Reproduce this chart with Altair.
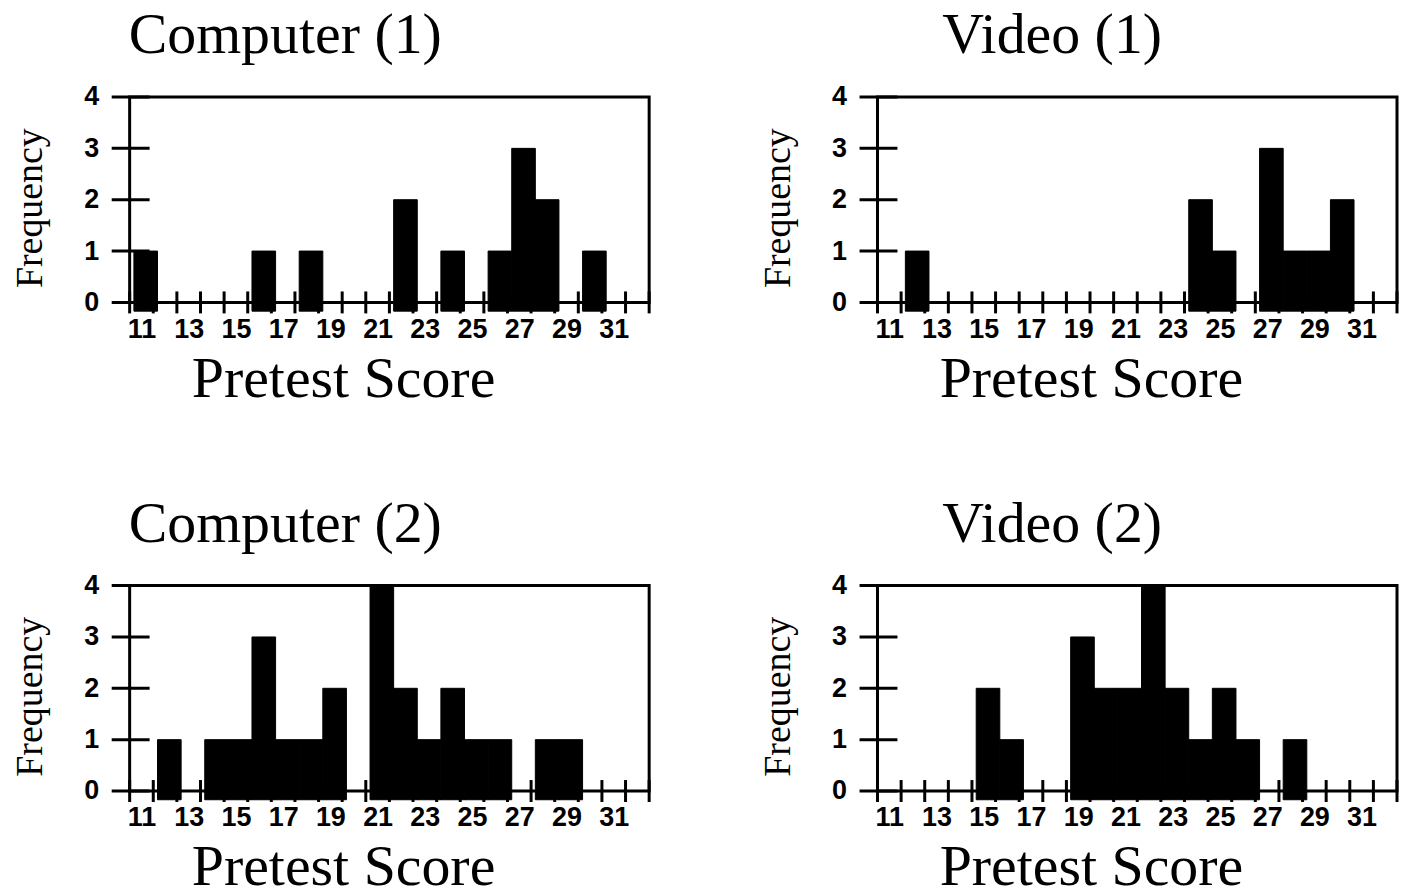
import altair as alt
import pandas as pd

# ---- data ----
comp1_scores = [11, 16, 18, 22, 24, 26, 27, 28, 30]
comp1_counts = [1, 1, 1, 2, 1, 1, 3, 2, 1]

video1_scores = [12, 24, 25, 27, 28, 29, 30]
video1_counts = [1, 2, 1, 3, 1, 1, 2]

comp2_scores = [12, 14, 15, 16, 17, 18, 19, 21, 22, 23, 24, 25, 26, 28, 29]
comp2_counts = [1, 1, 1, 3, 1, 1, 2, 4, 2, 1, 2, 1, 1, 1, 1]

video2_scores = [15, 16, 19, 20, 21, 22, 23, 24, 25, 26, 28]
video2_counts = [2, 1, 3, 2, 2, 4, 2, 1, 2, 1, 1]

x_labels = [11, 13, 15, 17, 19, 21, 23, 25, 27, 29, 31]
bin_edges = [e + 0.5 for e in range(10, 33)]   # 10.5 ... 32.5
y_labels = [0, 1, 2, 3, 4]

# ---- layout constants ----
W, H = 521, 206
SERIF = "Liberation Serif"
SANS = "Liberation Sans"

xs = alt.Scale(domain=[10.5, 32.5], nice=False, zero=False)
ys = alt.Scale(domain=[0, 4], nice=False, zero=False)

x_axis = alt.Axis(values=x_labels, title="Pretest Score", ticks=False, domain=False, grid=False,
                  labelFont=SANS, labelFontWeight="bold", labelFontSize=27, labelColor="black",
                  labelPadding=14, labelFlush=False,
                  titleFont=SERIF, titleFontSize=58, titleFontWeight="normal", titleColor="black",
                  titleX=214, titleY=48, titleAlign="center", titleBaseline="top")
y_axis = alt.Axis(values=y_labels, title="Frequency", ticks=False, domain=False, grid=False,
                  labelFont=SANS, labelFontWeight="bold", labelFontSize=27, labelColor="black",
                  labelPadding=31, labelFlush=False,
                  titleFont=SERIF, titleFontSize=38, titleFontWeight="normal", titleColor="black",
                  titleX=-99, titleY=111, titleAlign="center", titleBaseline="middle", titleAngle=270)


def panel(title, dx, scores, counts):
    df = pd.DataFrame({"score": scores, "count": counts})
    df["x0"] = df["score"] - 0.32
    df["x1"] = df["score"] + 0.68
    df["y0"] = -0.17
    bars = alt.Chart(df).mark_rect(color="black", stroke="black", strokeWidth=1).encode(
        x=alt.X("x0:Q", scale=xs, axis=x_axis),
        x2="x1:Q",
        y=alt.Y("y0:Q", scale=ys, axis=y_axis),
        y2="count:Q",
    )
    xt = alt.Chart(pd.DataFrame({"e": bin_edges})).mark_rule(color="black", strokeWidth=3).encode(
        x=alt.X("e:Q", scale=xs, axis=x_axis),
        y=alt.value(H - 11),
        y2=alt.value(H + 11),
    )
    yt = alt.Chart(pd.DataFrame({"v": y_labels})).mark_rule(color="black", strokeWidth=3).encode(
        y=alt.Y("v:Q", scale=ys, axis=y_axis),
        x=alt.value(-18),
        x2=alt.value(20),
    )
    return alt.layer(bars, xt, yt).properties(
        width=W, height=H,
        title=alt.TitleParams(title, anchor="start", dx=dx, font=SERIF, fontSize=58,
                              fontWeight="normal", color="black", offset=18),
    )


row1 = alt.hconcat(panel("Computer (1)", 117, comp1_scores, comp1_counts),
                   panel("Video (1)", 183, video1_scores, video1_counts), spacing=106)
row2 = alt.hconcat(panel("Computer (2)", 117, comp2_scores, comp2_counts),
                   panel("Video (2)", 183, video2_scores, video2_counts), spacing=106)

chart = alt.vconcat(row1, row2, spacing=84).properties(
    padding={"left": 2, "top": -4, "right": 0, "bottom": -12},
    background="white",
).configure_view(stroke="black", strokeWidth=3)

chart.save("out.html", embed_options={"renderer": "svg", "actions": False})
